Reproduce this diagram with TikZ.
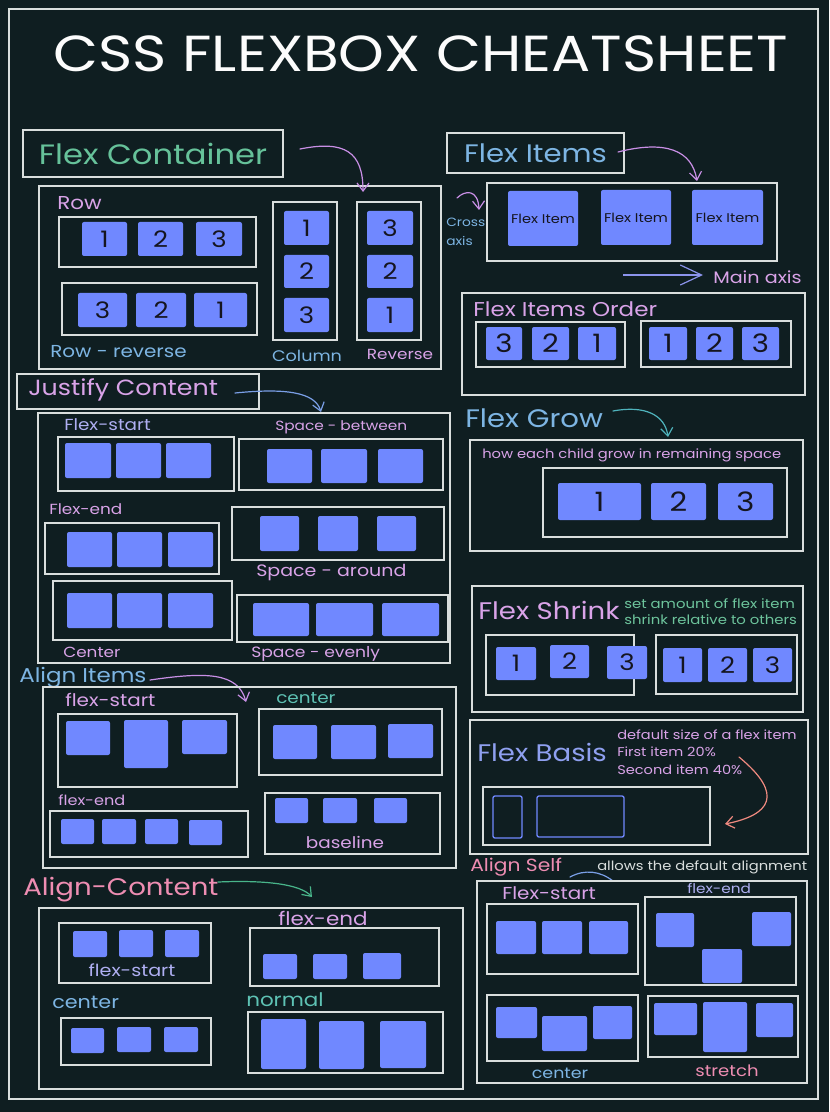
\documentclass[tikz,border=0pt]{standalone}
\usepackage{fontspec}
\setmainfont{Poppins}[FakeStretch=1.15]
\usetikzlibrary{arrows.meta, fit}
\definecolor{board}{HTML}{0F1E21}
\definecolor{chalk}{HTML}{D9DEDD}
\definecolor{itemblue}{HTML}{7088FF}
\definecolor{digit}{HTML}{15151F}
\definecolor{mint}{HTML}{66C29A}
\definecolor{lilac}{HTML}{D9A3E8}
\definecolor{sky}{HTML}{7DB5E3}
\definecolor{peri}{HTML}{AFAFF2}
\definecolor{basisblue}{HTML}{8FA0F0}
\definecolor{rose}{HTML}{EE8DB2}
\definecolor{aqua}{HTML}{5EC2B4}
\definecolor{sea}{HTML}{6DC49C}
\definecolor{violetline}{HTML}{C98FE6}
\definecolor{bluearrow}{HTML}{7A9FE6}
\definecolor{periline}{HTML}{8C94EC}
\definecolor{tealline}{HTML}{4FB3BC}
\definecolor{salmon}{HTML}{F08A80}
\definecolor{greenline}{HTML}{48B58A}
\newcommand\fs[1]{\fontsize{#1}{#1}\selectfont}
% a box spanned by two corners, with a name and a centred text
\newcommand\bx[4][panel]{\node[#1, fit={#3}] (#2) {};
  \node[#1, draw=none, fill=none] (#2-txt) at (#2.center) {#4};}

\begin{document}
\begin{tikzpicture}[x=0.75pt, y=-0.75pt,
  panel/.style={draw=chalk, line width=0.9pt, inner sep=0pt},
  item/.style={fill=itemblue, rounded corners=1.5pt, inner sep=0pt, text=digit},
  ghost/.style={draw=itemblue, line width=1pt, rounded corners=1.5pt, inner sep=0pt},
  lbl/.style={anchor=west, inner sep=0pt},
  curvy/.style={line width=0.9pt, line cap=round, -{Straight Barb[length=6pt, width=9pt]}}]

  \fill[board] (0,0) rectangle (829,1112);
  \useasboundingbox (0,0) rectangle (829,1112);
  \bx{sheet}{(9,9) (818,1099)}{}
  \node[font=\fs{38}, text=white!92!chalk] (title) at (421,54) {CSS FLEXBOX CHEATSHEET};

  % flex container
  \bx[panel, font=\fs{21}, text=mint]{fcHead}{(23,130) (283,177)}{Flex Container}
  \bx{fcBox}{(39,186) (441,369)}{}
  \coordinate (fcFrom) at (300,149);
  \coordinate (fcTip) at (363,192);
  \draw[curvy, violetline] (fcFrom) .. controls (345,140) and (363,152) .. (fcTip);
  \node[lbl, font=\fs{14}, text=lilac] (rowLbl) at (57,203) {Row};
  \bx{rowBox}{(59,217) (256,267)}{}
  \bx{revBox}{(62,283) (257,335)}{}
  \bx{colBox}{(273,202) (337,340)}{}
  \bx{colRev}{(357,202) (421,340)}{}
  \begin{scope}[font=\fs{17}]
    \bx[item]{row1}{(82,222) (127,256)}{1}
    \bx[item]{row2}{(138,222) (183,256)}{2}
    \bx[item]{row3}{(196,222) (242,256)}{3}
    \bx[item]{rev3}{(78,293) (127,327)}{3}
    \bx[item]{rev2}{(136,293) (186,327)}{2}
    \bx[item]{rev1}{(194,293) (247,327)}{1}
    \bx[item]{col1}{(284,211) (329,245)}{1}
    \bx[item]{col2}{(284,255) (329,288)}{2}
    \bx[item]{col3}{(284,298) (329,332)}{3}
    \bx[item]{cr3}{(367,211) (413,245)}{3}
    \bx[item]{cr2}{(367,255) (413,288)}{2}
    \bx[item]{cr1}{(367,298) (413,332)}{1}
  \end{scope}
  \node[lbl, font=\fs{13}, text=sky] (revLbl) at (50,352) {Row - reverse};
  \node[font=\fs{11.5}, text=sky, inner sep=0pt] (colLbl) at (307,356) {Column};
  \node[font=\fs{11}, text=lilac, inner sep=0pt] (crLbl) at (400,354) {Reverse};

  % flex items
  \bx[panel, font=\fs{19}, text=sky]{fiHead}{(447,133) (624,173)}{Flex Items}
  \bx{fiBox}{(487,183) (777,261)}{}
  \begin{scope}[font=\fs{9.5}]
    \bx[item]{fi1}{(508,191) (578,246)}{Flex Item}
    \bx[item]{fi2}{(601,190) (671,245)}{Flex Item}
    \bx[item]{fi3}{(692,190) (763,245)}{Flex Item}
  \end{scope}
  \coordinate (fiFrom) at (618,152);
  \coordinate (fiTip) at (697,181);
  \draw[curvy, violetline] (fiFrom) .. controls (665,140) and (692,150) .. (fiTip);
  \coordinate (caFrom) at (457,198);
  \coordinate (caTip) at (479,210);
  \draw[curvy, violetline] (caFrom) .. controls (465,190) and (478,189) .. (caTip);
  \node[lbl, font=\fontsize{9}{14}\selectfont, text=sky, align=left] (caLbl) at (446,232) {Cross\\axis};
  \coordinate (maFrom) at (623,275);
  \coordinate (maTip) at (703,275);
  \draw[periline, line width=0.9pt, -{Straight Barb[length=16pt, width=15pt]}] (maFrom) -- (maTip);
  \node[lbl, font=\fs{12.5}, text=lilac] (maLbl) at (713,277) {Main axis};

  % order
  \bx{ordBox}{(462,293) (805,395)}{}
  \node[lbl, font=\fs{15}, text=lilac] (ordLbl) at (473,309) {Flex Items Order};
  \bx{ordA}{(476,322) (625,367)}{}
  \bx{ordB}{(641,321) (791,367)}{}
  \begin{scope}[font=\fs{19}]
    \bx[item]{oa3}{(486,327) (522,360)}{3}
    \bx[item]{oa2}{(532,327) (569,360)}{2}
    \bx[item]{oa1}{(578,327) (616,360)}{1}
    \bx[item]{ob1}{(649,327) (687,360)}{1}
    \bx[item]{ob2}{(696,327) (733,360)}{2}
    \bx[item]{ob3}{(742,327) (779,360)}{3}
  \end{scope}

  % justify content
  \bx{jcHead}{(17,374) (259,409)}{}
  \node[lbl, font=\fs{16.5}, text=lilac] (jcLbl) at (28,390) {Justify Content};
  \coordinate (jcFrom) at (235,393);
  \coordinate (jcTip) at (321,412);
  \draw[curvy, bluearrow] (jcFrom) .. controls (285,388) and (315,392) .. (jcTip);
  \bx{jcBox}{(38,413) (450,663)}{}
  \node[lbl, font=\fs{12}, text=peri] (jsLbl) at (64,425) {Flex-start};
  \node[lbl, font=\fs{10}, text=lilac] (jbLbl) at (275,427) {Space - between};
  \node[lbl, font=\fs{11}, text=lilac] (jeLbl) at (49,509) {Flex-end};
  \node[lbl, font=\fs{12.4}, text=lilac] (jaLbl) at (256,573) {Space - around};
  \node[lbl, font=\fs{11}, text=lilac] (jcenLbl) at (63,652) {Center};
  \node[lbl, font=\fs{11.2}, text=lilac] (jvLbl) at (251,654) {Space - evenly};
  \bx{jsBox}{(58,437) (234,491)}{}
  \bx{jbBox}{(239,439) (443,490)}{}
  \bx{jeBox}{(45,523) (219,574)}{}
  \bx{jaBox}{(232,507) (444,560)}{}
  \bx{jcenBox}{(53,581) (232,640)}{}
  \bx{jvBox}{(237,595) (448,642)}{}
  \bx[item]{js1}{(65,443) (111,478)}{}
  \bx[item]{js2}{(116,443) (161,478)}{}
  \bx[item]{js3}{(166,443) (211,478)}{}
  \bx[item]{jb1}{(267,449) (312,483)}{}
  \bx[item]{jb2}{(321,449) (367,483)}{}
  \bx[item]{jb3}{(378,449) (423,483)}{}
  \bx[item]{je1}{(67,532) (112,567)}{}
  \bx[item]{je2}{(117,532) (162,567)}{}
  \bx[item]{je3}{(168,532) (213,567)}{}
  \bx[item]{ja1}{(260,516) (299,551)}{}
  \bx[item]{ja2}{(318,516) (358,551)}{}
  \bx[item]{ja3}{(377,516) (416,551)}{}
  \bx[item]{jcen1}{(67,593) (112,628)}{}
  \bx[item]{jcen2}{(117,593) (162,628)}{}
  \bx[item]{jcen3}{(168,593) (213,628)}{}
  \bx[item]{jv1}{(253,603) (309,636)}{}
  \bx[item]{jv2}{(316,603) (373,636)}{}
  \bx[item]{jv3}{(382,603) (439,636)}{}

  % flex grow
  \node[lbl, font=\fs{19}, text=sky] (fgLbl) at (465,418) {Flex Grow};
  \coordinate (fgFrom) at (613,411);
  \coordinate (fgTip) at (668,437);
  \draw[curvy, tealline] (fgFrom) .. controls (645,405) and (665,415) .. (fgTip);
  \bx{fgBox}{(470,440) (803,551)}{}
  \node[lbl, font=\fs{9.6}, text=lilac] (fgNote) at (482,455) {how each child grow in remaining space};
  \bx{fgRow}{(543,468) (787,537)}{}
  \begin{scope}[font=\fs{20}]
    \bx[item]{fg1}{(558,483) (641,520)}{1}
    \bx[item]{fg2}{(651,483) (706,520)}{2}
    \bx[item]{fg3}{(718,483) (773,520)}{3}
  \end{scope}

  % flex shrink
  \bx{fsBox}{(472,586) (803,712)}{}
  \node[lbl, font=\fs{18}, text=lilac] (fsLbl) at (478,610) {Flex Shrink};
  \node[lbl, font=\fontsize{9.7}{12}\selectfont, text=sea, align=left] (fsNote) at (624,612) {set amount of flex item\\shrink relative to others};
  \bx{fsA}{(486,635) (634,695)}{}
  \bx{fsB}{(656,635) (797,694)}{}
  \begin{scope}[font=\fs{17}]
    \bx[item]{fa1}{(496,647) (536,680)}{1}
    \bx[item]{fa2}{(550,645) (589,678)}{2}
    \bx[item]{fa3}{(607,646) (647,679)}{3}
    \bx[item]{fb1}{(663,648) (702,682)}{1}
    \bx[item]{fb2}{(708,648) (747,682)}{2}
    \bx[item]{fb3}{(753,648) (792,682)}{3}
  \end{scope}

  % flex basis
  \bx{fbBox}{(470,720) (808,854)}{}
  \node[lbl, font=\fs{18}, text=basisblue] (fbLbl) at (477,752) {Flex Basis};
  \node[lbl, font=\fontsize{9.5}{13}\selectfont, text=lilac, align=left] (fbNote) at (617,752) {default size of a flex item\\First item 20\%\\Second item 40\%};
  \bx{fbRow}{(483,787) (710,845)}{}
  \bx[ghost]{fbA}{(493,796) (522,838)}{}
  \bx[ghost]{fbB}{(537,796) (624,837)}{}
  \coordinate (fbFrom) at (739,757);
  \coordinate (fbTip) at (725,824);
  \draw[curvy, salmon] (fbFrom) .. controls (785,795) and (770,815) .. (fbTip);

  % align self
  \node[lbl, font=\fs{13.2}, text=rose] (asLbl) at (470,867) {Align Self};
  \node[lbl, font=\fs{9.6}, text=chalk] (asNote) at (597,867) {allows the default alignment};
  \coordinate (sqA) at (570,877);
  \coordinate (sqB) at (613,881);
  \draw[bluearrow, line width=0.9pt, line cap=round] (sqA) .. controls (585,869) and (600,871) .. (sqB);
  \bx{asBox}{(477,881) (807,1083)}{}
  \node[lbl, font=\fs{13}, text=lilac] (assLbl) at (502,893) {Flex-start};
  \node[lbl, font=\fs{10}, text=peri] (aseLbl) at (687,888) {flex-end};
  \node[font=\fs{11.4}, text=sky, inner sep=0pt] (ascLbl) at (560,1073) {center};
  \node[font=\fs{11.8}, text=rose, inner sep=0pt] (astLbl) at (727,1071) {stretch};
  \bx{assBox}{(487,904) (638,974)}{}
  \bx{aseBox}{(645,897) (796,985)}{}
  \bx{ascBox}{(487,995) (638,1061)}{}
  \bx{astBox}{(648,996) (798,1057)}{}
  \bx[item]{ass1}{(496,921) (536,954)}{}
  \bx[item]{ass2}{(542,921) (582,954)}{}
  \bx[item]{ass3}{(589,921) (628,954)}{}
  \bx[item]{ase1}{(656,913) (694,947)}{}
  \bx[item]{ase2}{(702,949) (742,983)}{}
  \bx[item]{ase3}{(752,912) (791,946)}{}
  \bx[item]{asc1}{(496,1007) (537,1038)}{}
  \bx[item]{asc2}{(542,1016) (587,1051)}{}
  \bx[item]{asc3}{(593,1006) (632,1039)}{}
  \bx[item]{ast1}{(654,1003) (697,1035)}{}
  \bx[item]{ast2}{(703,1002) (747,1052)}{}
  \bx[item]{ast3}{(756,1003) (793,1037)}{}

  % align items
  \node[lbl, font=\fs{15}, text=sky] (aiLbl) at (19,678) {Align Items};
  \coordinate (aiFrom) at (150,680);
  \coordinate (aiTip) at (246,702);
  \draw[curvy, violetline] (aiFrom) .. controls (205,672) and (238,672) .. (aiTip);
  \bx{aiBox}{(43,687) (456,868)}{}
  \node[lbl, font=\fs{13}, text=lilac] (aisLbl) at (65,700) {flex-start};
  \node[lbl, font=\fs{12}, text=aqua] (aicLbl) at (276,698) {center};
  \node[lbl, font=\fs{10.5}, text=lilac] (aieLbl) at (58,800) {flex-end};
  \node[font=\fs{12}, text=lilac, inner sep=0pt] (aibLbl) at (345,842) {baseline};
  \bx{aisBox}{(58,714) (237,787)}{}
  \bx{aicBox}{(259,709) (442,775)}{}
  \bx{aieBox}{(50,811) (248,857)}{}
  \bx{aibBox}{(265,793) (440,854)}{}
  \bx[item]{ais1}{(66,721) (110,755)}{}
  \bx[item]{ais2}{(124,720) (168,768)}{}
  \bx[item]{ais3}{(182,720) (227,754)}{}
  \bx[item]{aic1}{(273,725) (317,759)}{}
  \bx[item]{aic2}{(331,725) (376,759)}{}
  \bx[item]{aic3}{(388,724) (433,758)}{}
  \bx[item]{aie1}{(61,819) (94,844)}{}
  \bx[item]{aie2}{(102,819) (136,844)}{}
  \bx[item]{aie3}{(145,819) (178,844)}{}
  \bx[item]{aie4}{(189,820) (222,845)}{}
  \bx[item]{aib1}{(275,798) (308,823)}{}
  \bx[item]{aib2}{(323,798) (357,823)}{}
  \bx[item]{aib3}{(374,798) (407,823)}{}

  % align content
  \node[lbl, font=\fs{18}, text=rose] (acLbl) at (23,890) {Align-Content};
  \coordinate (acFrom) at (218,882);
  \coordinate (acTip) at (312,897);
  \draw[curvy, greenline] (acFrom) .. controls (265,880) and (300,884) .. (acTip);
  \bx{acBox}{(39,908) (463,1089)}{}
  \node[font=\fs{12.5}, text=peri, inner sep=0pt] (acsLbl) at (132,970) {flex-start};
  \node[lbl, font=\fs{14}, text=lilac] (aceLbl) at (278,918) {flex-end};
  \node[lbl, font=\fs{13.5}, text=sky] (accLbl) at (52,1002) {center};
  \node[lbl, font=\fs{14}, text=aqua] (acnLbl) at (246,1000) {normal};
  \bx{acsBox}{(59,923) (211,983)}{}
  \bx{aceBox}{(250,928) (439,986)}{}
  \bx{accBox}{(61,1018) (211,1065)}{}
  \bx{acnBox}{(248,1012) (443,1073)}{}
  \bx[item]{acs1}{(73,931) (107,957)}{}
  \bx[item]{acs2}{(119,930) (153,957)}{}
  \bx[item]{acs3}{(165,930) (199,957)}{}
  \bx[item]{ace1}{(263,954) (297,979)}{}
  \bx[item]{ace2}{(313,954) (347,979)}{}
  \bx[item]{ace3}{(363,953) (401,979)}{}
  \bx[item]{acc1}{(71,1028) (104,1053)}{}
  \bx[item]{acc2}{(117,1027) (151,1052)}{}
  \bx[item]{acc3}{(164,1027) (198,1052)}{}
  \bx[item]{acn1}{(261,1019) (306,1069)}{}
  \bx[item]{acn2}{(319,1021) (364,1069)}{}
  \bx[item]{acn3}{(380,1021) (426,1068)}{}
\end{tikzpicture}
\end{document}
